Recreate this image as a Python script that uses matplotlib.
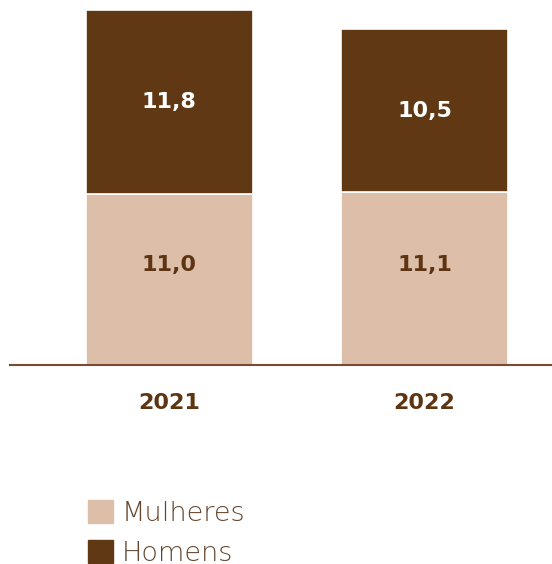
import matplotlib.pyplot as plt
from matplotlib.patches import Patch

years = ['2021', '2022']
mulheres = [11.0, 11.1]
homens = [11.8, 10.5]
labels_mulheres = ['11,0', '11,1']
labels_homens = ['11,8', '10,5']

light = '#dcbea9'
dark = '#603813'
text_brown = '#5e3512'

plt.rcParams['font.family'] = ['DejaVu Sans']

fig = plt.figure(figsize=(5.52, 5.64), dpi=100)
ax = fig.add_axes([10 / 552, 1 - 365 / 564, 542 / 552, 365 / 564])

x = [0, 1]
w = 0.655
ax.bar(x, mulheres, width=w, color=light, edgecolor='white', linewidth=1.2)
ax.bar(x, homens, width=w, bottom=mulheres, color=dark, edgecolor='white', linewidth=1.2)

for i in range(len(years)):
    # lower labels sit a bit above the segment centre
    ax.text(x[i], mulheres[i] / 2 + 0.9, labels_mulheres[i], ha='center', va='center',
            fontsize=16, fontweight='bold', color=text_brown)
    ax.text(x[i], mulheres[i] + homens[i] / 2, labels_homens[i], ha='center', va='center',
            fontsize=16, fontweight='bold', color='white')

ax.set_xlim(-0.625, 1.5)
ax.set_ylim(0, 23.45)
for s in ['top', 'right', 'left']:
    ax.spines[s].set_visible(False)
ax.spines['bottom'].set_color('#7a4a35')
ax.spines['bottom'].set_linewidth(1.5)
ax.set_yticks([])
ax.set_xticks(x)
ax.set_xticklabels(years, fontsize=16, fontweight='bold', color=text_brown)
ax.tick_params(axis='x', length=0, pad=20)

handles = [Patch(color=light), Patch(color=dark)]
fig.legend(handles, ['Mulheres', 'Homens'], loc='upper left',
           bbox_to_anchor=(88 / 552, 1 - 500 / 564), frameon=False,
           borderaxespad=0, borderpad=0,
           handlelength=0.93, handleheight=0.93, handletextpad=0.33,
           labelspacing=0.52, labelcolor='#66462f',
           prop={'weight': 'light', 'size': 19.5})

fig.savefig('out.png', dpi=100)
